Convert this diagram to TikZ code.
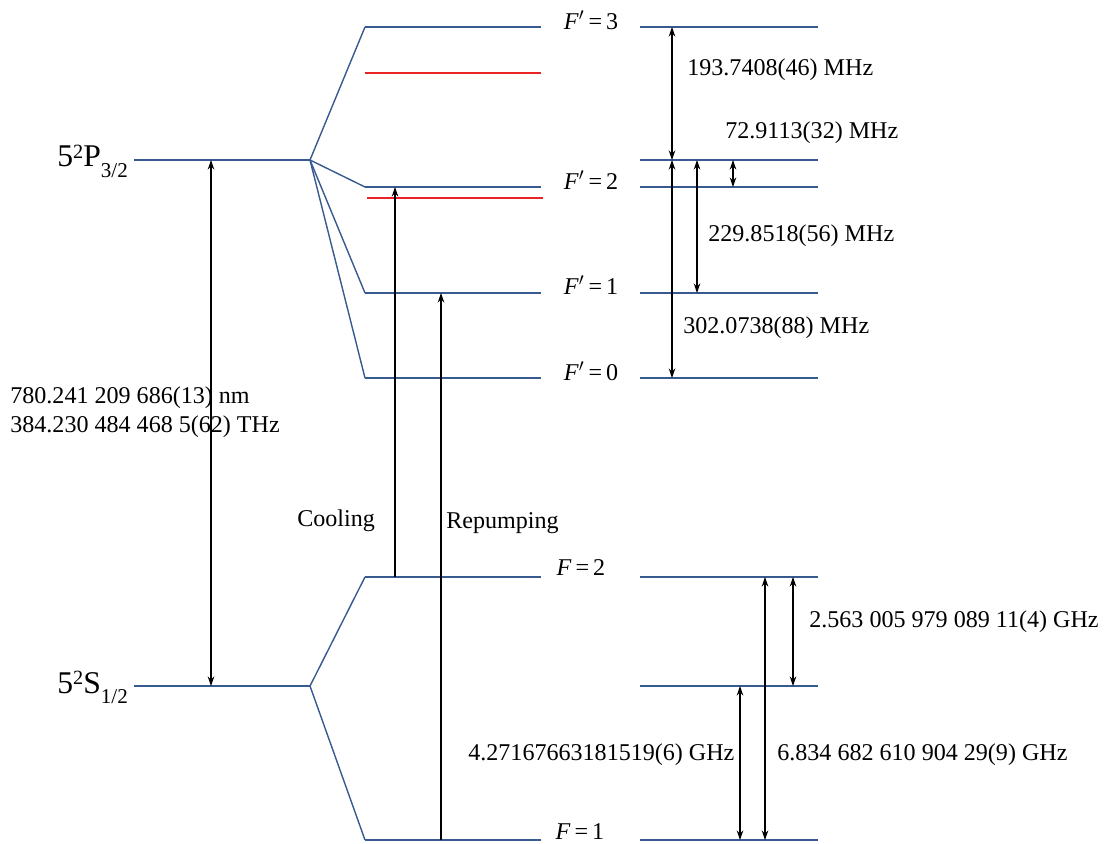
\documentclass[tikz,border=0pt]{standalone}
\usepackage{fontspec}
\setmainfont{Liberation Serif}
\usepackage{tikz}
\usetikzlibrary{arrows.meta, positioning, calc}

\definecolor{levelblue}{RGB}{55,90,145}
\definecolor{shiftred}{RGB}{235,35,35}

\tikzset{
  level/.style={draw=levelblue, line width=0.8pt},
  shifted/.style={draw=shiftred, line width=0.8pt},
  gap/.style={{Stealth[length=1.9mm,width=1.3mm]}-{Stealth[length=1.9mm,width=1.3mm]}, line width=0.6pt},
  pump/.style={-{Stealth[length=1.9mm,width=1.3mm]}, line width=0.6pt},
  lbl/.style={inner sep=0pt, anchor=west, font=\fontsize{13.7}{16}\selectfont},
  flbl/.style={inner sep=0pt, font=\fontsize{13.7}{16}\selectfont},
}

% term symbol n^{2S+1}L_J
\newcommand{\termlabel}[4]{{\fontsize{18}{21}\selectfont #1\raisebox{4.8pt}{\fontsize{11.5}{13}\selectfont #2}#3\raisebox{-6pt}{\fontsize{12}{14}\selectfont #4}}}
\newcommand{\Fp}[1]{\textit{F}$'$\,=\,#1}
\newcommand{\Fg}[1]{\textit{F}\,=\,#1}

\begin{document}
\begin{tikzpicture}[x=0.02cm, y=-0.02cm]
    \useasboundingbox (0,0) rectangle (1105,844);

    % Fine structure levels
    \coordinate (P) at (310,160);
    \coordinate (S) at (310,686);
    \coordinate (Pl) at (134,160);
    \coordinate (Sl) at (134,686);
    \draw[level] (Pl) -- (P);
    \draw[level] (Sl) -- (S);
    \node[anchor=base west, inner sep=0pt] (Plbl) at (57,167) {\termlabel{5}{2}{P}{3/2}};
    \node[anchor=base west, inner sep=0pt] (Slbl) at (57,693) {\termlabel{5}{2}{S}{1/2}};

    % Hyperfine levels, middle and right columns
    \foreach \name/\y in {e3/27, e2/187, e1/293, e0/378, g2/577, g1/840} {
        \coordinate (\name a) at (365,\y);
        \coordinate (\name b) at (541,\y);
        \coordinate (\name c) at (640,\y);
        \coordinate (\name d) at (818,\y);
        \draw[level] (\name a) -- (\name b);
        \draw[level] (\name c) -- (\name d);
    }
    \coordinate (pc) at (640,160);
    \coordinate (pd) at (818,160);
    \coordinate (sc) at (640,686);
    \coordinate (sd) at (818,686);
    \draw[level] (pc) -- (pd);
    \draw[level] (sc) -- (sd);

    % Splitting fans
    \foreach \name in {e3, e2, e1, e0} \draw[level] (P) -- (\name a);
    \foreach \name in {g2, g1} \draw[level] (S) -- (\name a);

    % Shifted levels
    \coordinate (r1a) at (365,73);
    \coordinate (r1b) at (541,73);
    \coordinate (r2a) at (367,198);
    \coordinate (r2b) at (543,198);
    \draw[shifted] (r1a) -- (r1b);
    \draw[shifted] (r2a) -- (r2b);

    % F labels
    \node[flbl] (F3) at (591,20) {\Fp{3}};
    \node[flbl] (F2) at (591,180) {\Fp{2}};
    \node[flbl] (F1) at (591,285) {\Fp{1}};
    \node[flbl] (F0) at (591,371) {\Fp{0}};
    \node[flbl] (G2) at (581,568) {\Fg{2}};
    \node[flbl] (G1) at (580,832) {\Fg{1}};

    % D2 line
    \coordinate (d2) at (211,160);
    \draw[gap] (d2) -- (d2 |- S);
    \node[lbl] (lam) at (10,398) {780.241 209 686(13) nm};
    \node[lbl] (nu) at (10,427) {384.230 484 468 5(62) THz};

    % Laser transitions
    \coordinate (cool) at (395,577);
    \coordinate (rep) at (441,840);
    \draw[pump] (cool) -- (cool |- e2a);
    \draw[pump] (rep) -- (rep |- e1a);
    \node[lbl] (cl) at (297,521) {Cooling};
    \node[lbl] (rl) at (446,523) {Repumping};

    % Excited state splittings
    \coordinate (h32) at (672,27);
    \coordinate (h30) at (672,160);
    \coordinate (h31) at (697,160);
    \coordinate (h3p) at (733,160);
    \draw[gap] (h32) -- (h32 |- pc);
    \draw[gap] (h30) -- (h30 |- e0c);
    \draw[gap] (h31) -- (h31 |- e1c);
    \draw[gap] (h3p) -- (h3p |- e2c);
    \node[lbl] at (687,70) {193.7408(46) MHz};
    \node[lbl] at (725,133) {72.9113(32) MHz};
    \node[lbl] at (708,236) {229.8518(56) MHz};
    \node[lbl] at (683,328) {302.0738(88) MHz};

    % Ground state splittings
    \coordinate (g2s) at (793,577);
    \coordinate (g21) at (765,577);
    \coordinate (gs1) at (740,686);
    \draw[gap] (g2s) -- (g2s |- sc);
    \draw[gap] (g21) -- (g21 |- g1c);
    \draw[gap] (gs1) -- (gs1 |- g1c);
    \node[lbl] at (809,622) {2.563 005 979 089 11(4) GHz};
    \node[lbl] at (468,755) {4.27167663181519(6) GHz};
    \node[lbl] at (777,755) {6.834 682 610 904 29(9) GHz};
\end{tikzpicture}
\end{document}
